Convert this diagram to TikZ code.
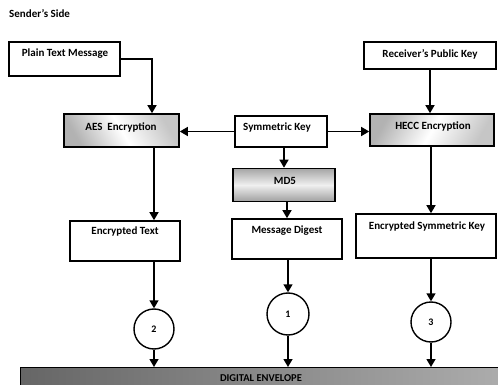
\documentclass[tikz,border=0pt]{standalone}
\usepackage{fontspec}
\setmainfont{Carlito}
\usetikzlibrary{arrows.meta}
\begin{document}
\begin{tikzpicture}[x=1pt,y=-1pt,
  box/.style={draw=black, line width=1.6pt, rectangle, inner sep=0pt},
  lbl/.style={font=\bfseries\fontsize{11}{12}\selectfont, inner sep=0pt},
  diag/.style={shading=axis, left color=gray!60, right color=gray!45, middle color=white, shading angle=#1},
  circ/.style={draw=black, line width=1.4pt, circle, inner sep=0pt, minimum size=40pt, font=\bfseries\fontsize{10}{12}\selectfont},
  arr/.style={line width=1.4pt, -{Triangle[length=8pt,width=9pt]}}
]
\useasboundingbox (0,0) rectangle (498,385);
\node[font=\bfseries\fontsize{11}{12}\selectfont, anchor=west, inner sep=0pt] (title) at (9,14) {Sender’s Side};

\node[box, minimum width=111pt, minimum height=34pt] (ptm) at (64.5,59) {};
\node[lbl] at (65,54) {Plain Text Message};

\node[box, diag=120, minimum width=115pt, minimum height=33pt] (aes) at (121.5,130.5) {};
\node[lbl] at (121,127) {AES\ \ Encryption};

\node[box, minimum width=92pt, minimum height=31pt] (sym) at (281,131.5) {};
\node[lbl] at (277,128) {Symmetric Key};

\node[box, diag=60, minimum width=124pt, minimum height=32pt] (hecc) at (432,130) {};
\node[lbl] at (433,126) {HECC Encryption};

\node[box, minimum width=132pt, minimum height=27pt] (rpk) at (430,55.5) {};
\node[lbl] at (430,54) {Receiver’s Public Key};

\node[box, shading=axis, top color=gray!70, bottom color=gray!75, middle color=gray!12, minimum width=102pt, minimum height=33pt] (md5) at (284,185) {};
\node[lbl] at (285,181) {MD5};

\node[box, minimum width=110pt, minimum height=40pt] (md) at (287,239) {};
\node[lbl] at (287,231) {Message Digest};

\node[box, minimum width=110pt, minimum height=40pt] (et) at (125,241) {};
\node[lbl] at (125,232) {Encrypted Text};

\node[box, minimum width=140pt, minimum height=44pt] (esk) at (426,236) {};
\node[lbl] at (427,227) {Encrypted Symmetric Key};

\node[circ] (c2) at (154,329) {2};
\node[circ, minimum size=42pt] (c1) at (288,314) {1};
\node[circ] (c3) at (431,322) {3};

\node[box, line width=1.2pt, shading=axis, left color=gray!80!black, middle color=gray!18, right color=gray!65, minimum width=482pt, minimum height=24pt, anchor=north west] (env) at (20,367) {};
\node[lbl, font=\bfseries\fontsize{10.5}{12}\selectfont] at (261,378) {DIGITAL ENVELOPE};

\draw[arr] (ptm.east) -| ([xshift=30.5pt]aes.north);
\draw[arr] (sym.west) -- (sym.west -| aes.east);
\draw[arr] (sym.east) -- (sym.east -| hecc.west);
\draw[arr] (rpk.south) -- (rpk.south |- hecc.north);
\draw[arr] (md5.north |- sym.south) -- (md5.north);
\draw[arr] (md.north |- md5.south) -- (md.north);
\draw[arr] (c2.north |- aes.south) -- (c2.north |- et.north);
\draw[arr] (c3.north |- hecc.south) -- (c3.north |- esk.north);
\draw[arr] (c2.north |- et.south) -- (c2.north);
\draw[arr] (c1.north |- md.south) -- (c1.north);
\draw[arr] (c3.north |- esk.south) -- (c3.north);
\draw[arr] (c2.south) -- (c2.south |- env.north);
\draw[arr] (c1.south) -- (c1.south |- env.north);
\draw[arr] (c3.south) -- (c3.south |- env.north);
\end{tikzpicture}
\end{document}
